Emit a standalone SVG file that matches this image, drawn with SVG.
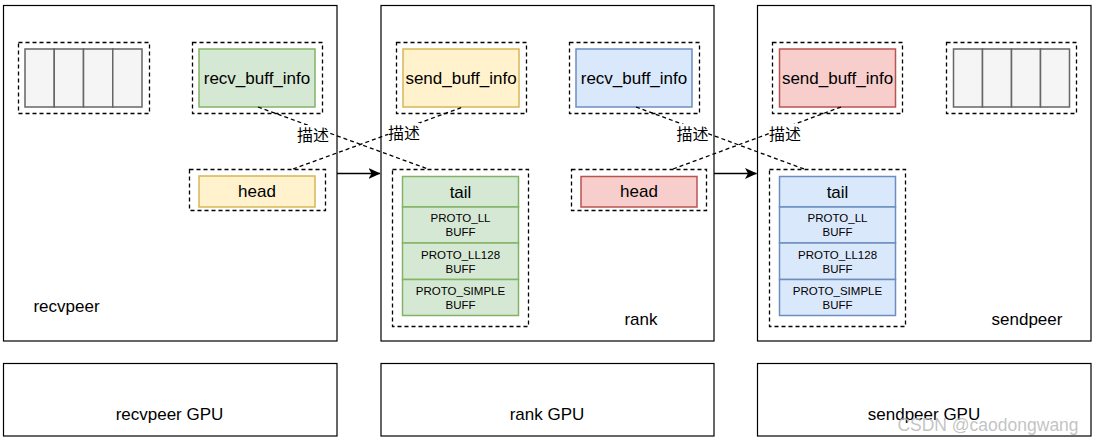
<svg xmlns="http://www.w3.org/2000/svg" width="1096" height="442" viewBox="0 0 1096 442">
<defs>
<style>
text{font-family:"Liberation Sans",Arial,"Noto Sans CJK SC",sans-serif;fill:#000;text-anchor:middle;dominant-baseline:central}
.panel{fill:#fff;stroke:#000;stroke-width:1.2}
.dash{fill:none;stroke:#000;stroke-width:1.3;stroke-dasharray:4 3}
.gray{fill:#f5f5f5;stroke:#666;stroke-width:1.5}
.green{fill:#d5e8d4;stroke:#82b366;stroke-width:1.5}
.yellow{fill:#fff2cc;stroke:#d6b656;stroke-width:1.5}
.blue{fill:#dae8fc;stroke:#6c8ebf;stroke-width:1.5}
.red{fill:#f8cecc;stroke:#b85450;stroke-width:1.5}
.big{font-size:17px}
.small{font-size:11.5px}
.cn{font-family:"Noto Sans CJK SC","Liberation Sans",sans-serif;font-size:16px}
.lbl{fill:#fff;stroke:none}
.edge{fill:none;stroke:#000;stroke-width:1.3;stroke-dasharray:4 3}
.arrow{fill:none;stroke:#000;stroke-width:1.3}
</style>
<marker id="ah" viewBox="0 0 12 11" refX="11.5" refY="5.5" markerWidth="12" markerHeight="11" markerUnits="userSpaceOnUse" orient="auto">
<path d="M0,0 L12,5.5 L0,11 L3,5.5 Z" fill="#000"/>
</marker>
</defs>
<rect width="1096" height="442" fill="#fff"/>

<g id="recvpeer">
<rect class="panel" x="3.5" y="5.5" width="333.5" height="335.5"/>
<text class="big" x="66.5" y="306">recvpeer</text>
</g>
<g id="rank">
<rect class="panel" x="381" y="5.5" width="333" height="335.5"/>
<text class="big" x="641" y="319">rank</text>
</g>
<g id="sendpeer">
<rect class="panel" x="757.5" y="5.5" width="333.5" height="335.5"/>
<text class="big" x="1027" y="319">sendpeer</text>
</g>

<g id="recvpeer-gpu">
<rect class="panel" x="3.5" y="363.5" width="333.5" height="72.5"/>
<text class="big" x="169.5" y="414">recvpeer GPU</text>
</g>
<g id="rank-gpu">
<rect class="panel" x="381" y="363.5" width="333" height="72.5"/>
<text class="big" x="547" y="414">rank GPU</text>
</g>
<g id="sendpeer-gpu">
<rect class="panel" x="757.5" y="363.5" width="333.5" height="72.5"/>
<text class="big" x="924" y="414">sendpeer GPU</text>
</g>

<g id="recvpeer-queue">
<rect class="dash" x="18.5" y="42.5" width="131" height="71"/>
<rect class="gray" x="25" y="49" width="29.25" height="58"/>
<rect class="gray" x="54.25" y="49" width="29.25" height="58"/>
<rect class="gray" x="83.5" y="49" width="29.25" height="58"/>
<rect class="gray" x="112.75" y="49" width="29.25" height="58"/>
</g>
<g id="recvpeer-recv-buff-info">
<rect class="dash" x="192.5" y="42.5" width="130" height="71"/>
<rect class="green" x="199" y="49" width="116" height="58"/>
<text class="big" x="257" y="78">recv_buff_info</text>
</g>
<g id="recvpeer-head">
<rect class="dash" x="189.5" y="169.5" width="136" height="41"/>
<rect class="yellow" x="199" y="176" width="116" height="31"/>
<text class="big" x="257" y="191.5">head</text>
</g>

<g id="rank-send-buff-info">
<rect class="dash" x="396.5" y="42.5" width="130" height="71"/>
<rect class="yellow" x="403" y="49" width="116" height="58"/>
<text class="big" x="461" y="78">send_buff_info</text>
</g>
<g id="rank-recv-buff-info">
<rect class="dash" x="569.5" y="42.5" width="130" height="71"/>
<rect class="blue" x="576" y="49" width="116" height="58"/>
<text class="big" x="634" y="78">recv_buff_info</text>
</g>
<g id="rank-tail">
<rect class="dash" x="392.5" y="169.5" width="136" height="157"/>
<rect class="green" x="402.5" y="176.5" width="116" height="30.5"/>
<text class="big" x="460.5" y="192">tail</text>
<rect class="green" x="402.5" y="207" width="116" height="36"/>
<text class="small" x="460.5" y="218">PROTO_LL</text>
<text class="small" x="460.5" y="232">BUFF</text>
<rect class="green" x="402.5" y="243" width="116" height="36.5"/>
<text class="small" x="460.5" y="254.5">PROTO_LL128</text>
<text class="small" x="460.5" y="268.5">BUFF</text>
<rect class="green" x="402.5" y="279.5" width="116" height="36"/>
<text class="small" x="460.5" y="290.5">PROTO_SIMPLE</text>
<text class="small" x="460.5" y="304.5">BUFF</text>
</g>
<g id="rank-head">
<rect class="dash" x="571.5" y="169.5" width="135" height="41"/>
<rect class="red" x="581" y="176.5" width="116" height="30.5"/>
<text class="big" x="639" y="191.5">head</text>
</g>

<g id="sendpeer-send-buff-info">
<rect class="dash" x="772.5" y="42.5" width="130" height="71"/>
<rect class="red" x="779.5" y="49" width="116" height="58"/>
<text class="big" x="837.5" y="78">send_buff_info</text>
</g>
<g id="sendpeer-queue">
<rect class="dash" x="946.5" y="42.5" width="130" height="71"/>
<rect class="gray" x="953.5" y="49" width="29" height="58"/>
<rect class="gray" x="982.5" y="49" width="29" height="58"/>
<rect class="gray" x="1011.5" y="49" width="29" height="58"/>
<rect class="gray" x="1040.5" y="49" width="29" height="58"/>
</g>
<g id="sendpeer-tail">
<rect class="dash" x="769.5" y="169.5" width="136" height="157"/>
<rect class="blue" x="779.5" y="176.5" width="116" height="30.5"/>
<text class="big" x="837.5" y="192">tail</text>
<rect class="blue" x="779.5" y="207" width="116" height="36"/>
<text class="small" x="837.5" y="218">PROTO_LL</text>
<text class="small" x="837.5" y="232">BUFF</text>
<rect class="blue" x="779.5" y="243" width="116" height="36.5"/>
<text class="small" x="837.5" y="254.5">PROTO_LL128</text>
<text class="small" x="837.5" y="268.5">BUFF</text>
<rect class="blue" x="779.5" y="279.5" width="116" height="36"/>
<text class="small" x="837.5" y="290.5">PROTO_SIMPLE</text>
<text class="small" x="837.5" y="304.5">BUFF</text>
</g>

<g id="connectors">
<line class="arrow" x1="337" y1="173.5" x2="380" y2="173.5" marker-end="url(#ah)"/>
<line class="arrow" x1="714" y1="173.5" x2="756.5" y2="173.5" marker-end="url(#ah)"/>
<line class="edge" x1="258" y1="107" x2="428" y2="169"/>
<line class="edge" x1="293" y1="169" x2="463" y2="107"/>
<line class="edge" x1="636" y1="107" x2="804" y2="169"/>
<line class="edge" x1="673" y1="169" x2="841" y2="107"/>
<rect class="lbl" x="297" y="125" width="32" height="17"/>
<text class="cn" x="313" y="133.5">描述</text>
<rect class="lbl" x="388" y="123" width="32" height="17"/>
<text class="cn" x="404" y="131.5">描述</text>
<rect class="lbl" x="677" y="124" width="31" height="17"/>
<text class="cn" x="692.5" y="132.5">描述</text>
<rect class="lbl" x="769" y="124" width="32" height="17"/>
<text class="cn" x="785" y="132.5">描述</text>
</g>

<text x="988" y="424.5" style="font-size:17.5px;fill:#b8b8b8;fill-opacity:0.85">CSDN @caodongwang</text>
</svg>
